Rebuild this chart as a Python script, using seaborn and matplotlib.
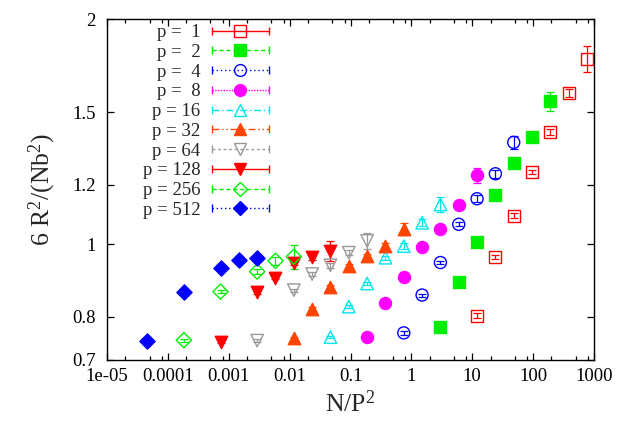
import matplotlib
matplotlib.use("Agg")
import matplotlib.pyplot as plt
import seaborn as sns
import pandas as pd
from matplotlib.lines import Line2D
from matplotlib.legend_handler import HandlerLine2D, HandlerTuple
from matplotlib.ticker import LogLocator, NullFormatter

# chain lengths per p, and 6R^2/(Nb^2)
p_vals = [1, 2, 4, 8, 16, 32, 64, 128, 256, 512]
N_full = [12, 24, 48, 96, 192, 384, 768]
N_mid = [12, 48, 96, 192, 384, 768]
N_short = [12, 48, 192, 384, 768]
N_lists = [N_full, N_full, N_full, N_full, N_full, N_full, N_mid, N_mid, N_short, N_short]

y_p1 = [0.802, 0.962, 1.092, 1.249, 1.413, 1.592, 1.769]
y_p2 = [0.776, 0.890, 1.008, 1.164, 1.284, 1.391, 1.552]
y_p4 = [0.761, 0.855, 0.945, 1.063, 1.150, 1.242, 1.368]
y_p8 = [0.752, 0.833, 0.904, 0.991, 1.047, 1.127, 1.236]
y_p16 = [0.751, 0.825, 0.886, 0.959, 0.994, 1.068, 1.130]
y_p32 = [0.748, 0.820, 0.877, 0.934, 0.964, 0.994, 1.049]
y_p64 = [0.743, 0.868, 0.912, 0.937, 0.974, 1.010]
y_p128 = [0.741, 0.862, 0.902, 0.945, 0.962, 0.979]
y_p256 = [0.744, 0.864, 0.919, 0.950, 0.962]
y_p512 = [0.743, 0.864, 0.928, 0.952, 0.957]

e_p1 = [0.006, 0.006, 0.007, 0.008, 0.012, 0.018, 0.070]
e_p2 = [0.004, 0.005, 0.006, 0.007, 0.009, 0.012, 0.045]
e_p4 = [0.004, 0.004, 0.005, 0.006, 0.012, 0.015, 0.026]
e_p8 = [0.003, 0.004, 0.005, 0.006, 0.008, 0.010, 0.030]
e_p16 = [0.003, 0.004, 0.005, 0.006, 0.008, 0.012, 0.025]
e_p32 = [0.003, 0.004, 0.005, 0.006, 0.007, 0.008, 0.019]
e_p64 = [0.003, 0.004, 0.005, 0.008, 0.008, 0.024]
e_p128 = [0.003, 0.004, 0.005, 0.006, 0.010, 0.030]
e_p256 = [0.003, 0.004, 0.006, 0.012, 0.035]
e_p512 = [0.003, 0.004, 0.005, 0.012, 0.006]

y_lists = [y_p1, y_p2, y_p4, y_p8, y_p16, y_p32, y_p64, y_p128, y_p256, y_p512]
e_lists = [e_p1, e_p2, e_p4, e_p8, e_p16, e_p32, e_p64, e_p128, e_p256, e_p512]

colors = ["#ff0000", "#00ee00", "#0000ff", "#ff00ff", "#00e5ee",
          "#ff4500", "#999999", "#ff0000", "#00ee00", "#0000ff"]
markers = ["s", "s", "o", "o", "^", "^", "v", "v", "D", "D"]
filled = [False, True, False, True, False, True, False, True, False, True]
dashes = ["-", (0, (3, 2)), (0, (1, 2)), (0, (1, 1)), (0, (5, 2, 1, 2)),
          (0, (5, 2, 1, 2, 1, 2)), (0, (2, 2)), "-", (0, (3, 2)), (0, (1, 2))]
labels = ["p =  1", "p =  2", "p =  4", "p =  8", "p = 16",
          "p = 32", "p = 64", "p = 128", "p = 256", "p = 512"]

sns.set_theme(style="ticks")
plt.rcParams["font.family"] = ["Liberation Serif", "DejaVu Serif"]
plt.rcParams["mathtext.fontset"] = "custom"
plt.rcParams["mathtext.rm"] = "Liberation Serif"
plt.rcParams["mathtext.it"] = "Liberation Serif:italic"

fig = plt.figure(figsize=(6.18, 4.22), dpi=100)
ax = fig.add_axes([107 / 618, 1 - 360 / 422, 487 / 618, 341 / 422])

handles = []
hmap = {tuple: HandlerTuple(ndivide=1, pad=0)}
for p, N, y, e, c, m, f, ls, lab in zip(p_vals, N_lists, y_lists, e_lists,
                                        colors, markers, filled, dashes, labels):
    df = pd.DataFrame({"x": [n / p ** 2 for n in N], "y": y, "e": e})
    ax.errorbar(df["x"], df["y"], yerr=df["e"], fmt="none", ecolor=c,
                elinewidth=0.9, capsize=2.8, capthick=0.9, zorder=2)
    ms = 75 if m in ("s", "o") else 80
    if m == "D":
        ms = 60
    sns.scatterplot(data=df, x="x", y="y", marker=m, s=ms, ax=ax,
                    color=c, facecolor=c if f else "none", edgecolor=c,
                    linewidth=1.0, zorder=3, legend=False)

    ln = Line2D([], [], color=c, ls=ls, lw=1.0)
    caps = Line2D([], [], color=c, ls="none", marker="|", ms=6, mew=1.0)
    mk = Line2D([], [], ls="none", marker=m, ms=8.5 if m != "D" else 7.5,
                mfc=c if f else "none", mec=c, mew=1.0)
    hmap[caps] = HandlerLine2D(numpoints=2, marker_pad=0)
    hmap[mk] = HandlerLine2D(numpoints=1)
    handles.append((ln, caps, mk))

ax.set_xscale("log")
ax.set_yscale("log")
ax.set_xlim(1e-5, 1000)
ax.set_ylim(0.7, 2)

xt = [1e-5, 1e-4, 1e-3, 1e-2, 1e-1, 1, 10, 100, 1000]
xtl = ["1e-05", "0.0001", "0.001", "0.01", "0.1", "1", "10", "100", "1000"]
ax.set_xticks(xt)
ax.set_xticklabels(xtl)
ax.xaxis.set_minor_locator(LogLocator(base=10, subs=[2, 5, 8], numticks=100))
ax.xaxis.set_minor_formatter(NullFormatter())

yt = [0.7, 0.8, 1, 1.2, 1.5, 2]
ax.set_yticks(yt)
ax.set_yticklabels(["0.7", "0.8", "1", "1.2", "1.5", "2"])
ax.yaxis.set_minor_locator(plt.NullLocator())

ax.tick_params(which="both", direction="in", top=True, right=True,
               colors="black", labelsize=13.5, width=0.9)
ax.tick_params(which="major", length=5)
ax.tick_params(which="minor", length=3)
ax.tick_params(axis="x", pad=6)
ax.tick_params(axis="y", pad=8)
for s in ax.spines.values():
    s.set_color("black")
    s.set_linewidth(1.0)

ax.set_xlabel("N/P$^2$", fontsize=18.5, labelpad=4)
ax.set_ylabel("6 R$^2$/(Nb$^2$)", fontsize=18.5, labelpad=10)

leg = ax.legend(handles, labels, handler_map=hmap, loc="upper right",
                bbox_to_anchor=((269 - 107) / 487, 1 - (24 - 19) / 341),
                frameon=False, markerfirst=False, fontsize=13.5,
                handlelength=3.05, handletextpad=0.6, labelspacing=0.14,
                borderpad=0, borderaxespad=0)

fig.savefig("out.png", dpi=100)
